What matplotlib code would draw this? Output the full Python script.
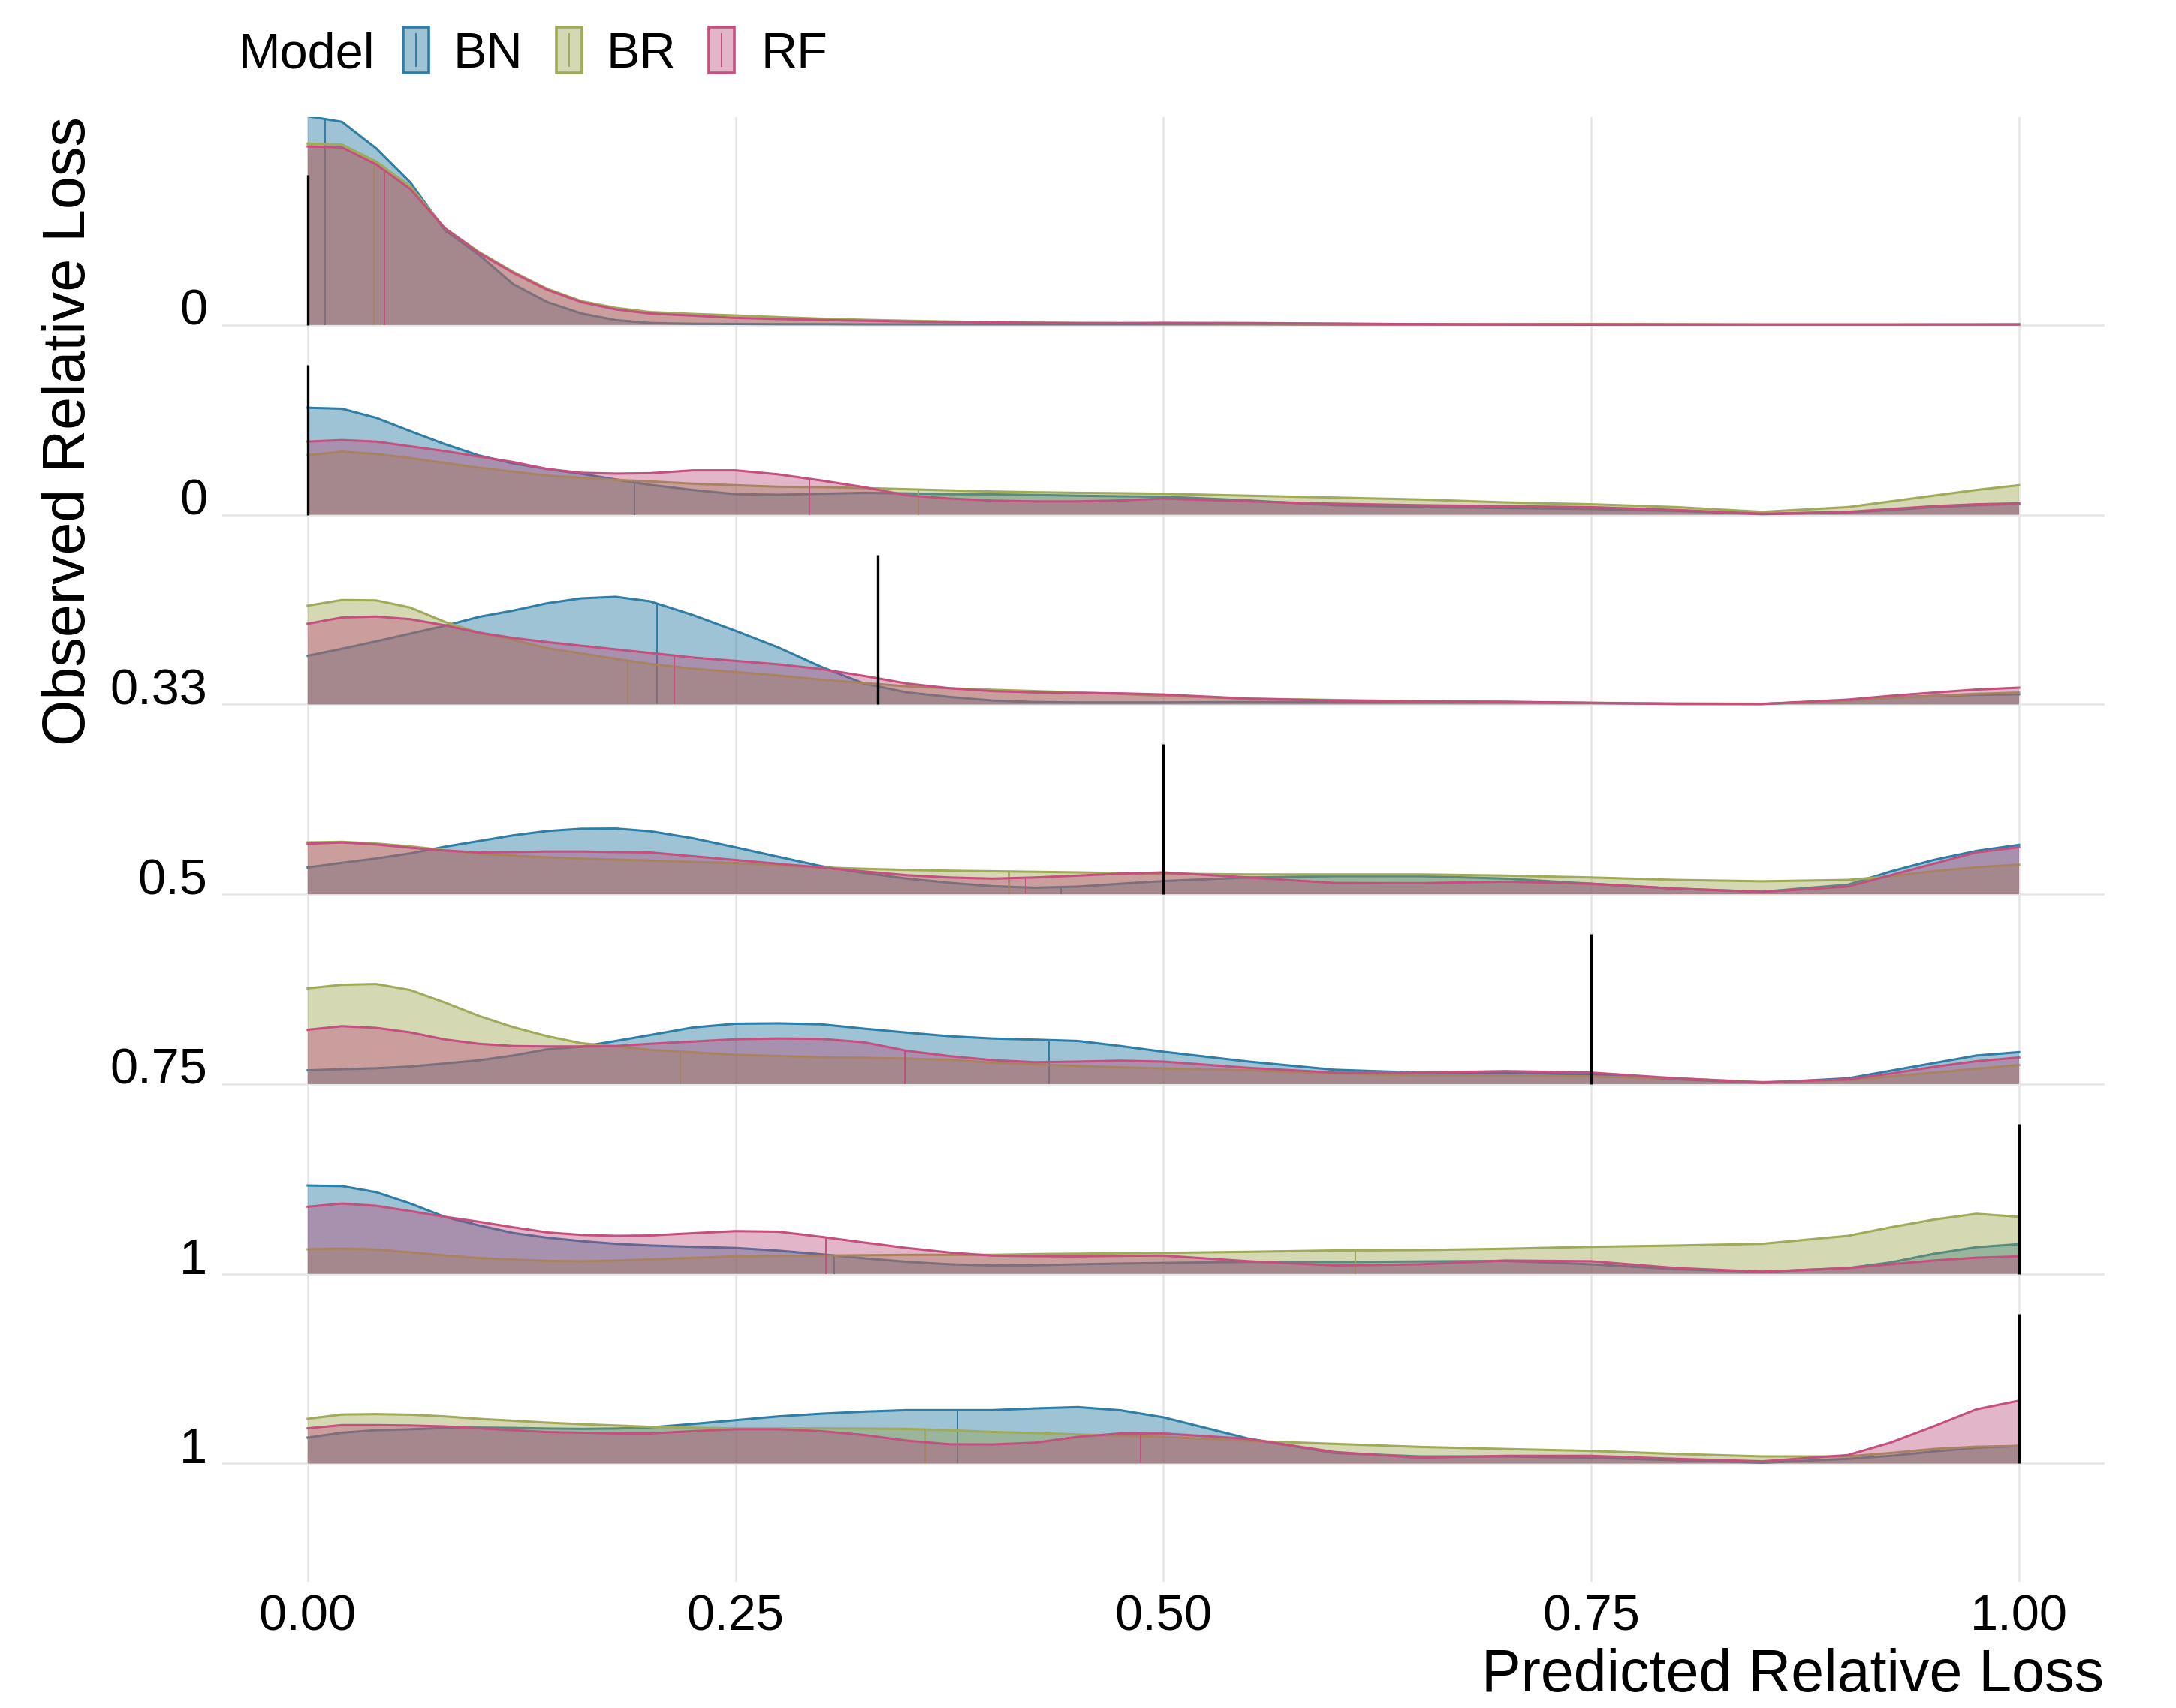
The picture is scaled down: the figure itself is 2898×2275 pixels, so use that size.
import numpy as np
import matplotlib
matplotlib.use("Agg")
import matplotlib.pyplot as plt
from matplotlib.patches import Rectangle
from matplotlib.lines import Line2D

plt.rcParams['font.family'] = ['Liberation Sans', 'DejaVu Sans']

# ---------------- data ----------------
row_labels = ["0", "0", "0.33", "0.5", "0.75", "1", "1"]       # top -> bottom
observed = [0.0, 0.0, 0.333, 0.5, 0.75, 1.0, 1.0]
models = ["BN", "BR", "RF"]

x_grid = [0.00, 0.02, 0.04, 0.06, 0.08, 0.10, 0.12, 0.14, 0.16, 0.18, 0.20,
          0.225, 0.25, 0.275, 0.30, 0.325, 0.35, 0.375, 0.40, 0.425, 0.45,
          0.475, 0.50, 0.55, 0.60, 0.65, 0.70, 0.75, 0.80, 0.85, 0.90,
          0.925, 0.95, 0.975, 1.00]

# scaled density heights (in units of ridge spacing)
bn_r1 = [1.10, 1.07, 0.93, 0.75, 0.50, 0.37, 0.215, 0.12, 0.06, 0.025, 0.01, 0.006, 0.005, 0.004, 0.004, 0.003, 0.003, 0.003, 0.003, 0.003, 0.003, 0.003, 0.003, 0.003, 0.002, 0.002, 0.001, 0.001, 0.001, 0.001, 0.001, 0.001, 0.002, 0.002, 0.003]
br_r1 = [0.955, 0.95, 0.86, 0.73, 0.51, 0.385, 0.28, 0.19, 0.125, 0.09, 0.068, 0.058, 0.05, 0.041, 0.033, 0.027, 0.022, 0.018, 0.015, 0.012, 0.010, 0.009, 0.008, 0.007, 0.006, 0.004, 0.004, 0.005, 0.004, 0.002, 0.002, 0.002, 0.002, 0.002, 0.002]
rf_r1 = [0.94, 0.935, 0.845, 0.715, 0.51, 0.38, 0.275, 0.185, 0.12, 0.082, 0.06, 0.049, 0.037, 0.031, 0.026, 0.022, 0.018, 0.015, 0.013, 0.011, 0.010, 0.010, 0.011, 0.010, 0.007, 0.004, 0.003, 0.003, 0.002, 0.002, 0.002, 0.002, 0.002, 0.002, 0.002]

bn_r2 = [0.563, 0.558, 0.51, 0.44, 0.372, 0.312, 0.27, 0.24, 0.215, 0.185, 0.157, 0.13, 0.108, 0.105, 0.11, 0.115, 0.112, 0.108, 0.107, 0.104, 0.10, 0.097, 0.095, 0.075, 0.05, 0.04, 0.035, 0.03, 0.02, 0.003, 0.012, 0.025, 0.04, 0.05, 0.058]
br_r2 = [0.313, 0.332, 0.32, 0.298, 0.272, 0.247, 0.226, 0.205, 0.194, 0.183, 0.175, 0.163, 0.155, 0.147, 0.145, 0.14, 0.134, 0.128, 0.122, 0.118, 0.115, 0.113, 0.11, 0.10, 0.09, 0.08, 0.065, 0.055, 0.04, 0.015, 0.04, 0.07, 0.10, 0.13, 0.155]
rf_r2 = [0.385, 0.393, 0.385, 0.36, 0.335, 0.306, 0.277, 0.24, 0.22, 0.216, 0.218, 0.233, 0.233, 0.212, 0.18, 0.145, 0.102, 0.085, 0.074, 0.07, 0.07, 0.075, 0.085, 0.07, 0.058, 0.05, 0.045, 0.04, 0.025, 0.005, 0.015, 0.03, 0.045, 0.055, 0.06]

bn_r3 = [0.256, 0.293, 0.332, 0.373, 0.414, 0.461, 0.494, 0.533, 0.559, 0.567, 0.543, 0.471, 0.388, 0.30, 0.198, 0.11, 0.063, 0.039, 0.02, 0.012, 0.010, 0.010, 0.010, 0.012, 0.014, 0.014, 0.012, 0.007, 0.003, 0.002, 0.02, 0.035, 0.045, 0.05, 0.053]
br_r3 = [0.52, 0.55, 0.548, 0.51, 0.435, 0.378, 0.34, 0.296, 0.268, 0.24, 0.213, 0.188, 0.17, 0.152, 0.13, 0.113, 0.095, 0.085, 0.077, 0.07, 0.063, 0.055, 0.045, 0.03, 0.023, 0.016, 0.013, 0.008, 0.005, 0.003, 0.02, 0.035, 0.045, 0.055, 0.062]
rf_r3 = [0.425, 0.458, 0.463, 0.449, 0.417, 0.378, 0.35, 0.328, 0.309, 0.29, 0.271, 0.247, 0.229, 0.211, 0.186, 0.15, 0.11, 0.085, 0.07, 0.063, 0.06, 0.058, 0.052, 0.03, 0.02, 0.016, 0.013, 0.008, 0.002, 0.002, 0.025, 0.045, 0.062, 0.078, 0.088]

bn_r4 = [0.141, 0.165, 0.188, 0.215, 0.25, 0.28, 0.31, 0.333, 0.345, 0.346, 0.332, 0.295, 0.247, 0.197, 0.148, 0.112, 0.082, 0.06, 0.042, 0.034, 0.04, 0.055, 0.069, 0.088, 0.095, 0.095, 0.082, 0.055, 0.029, 0.013, 0.05, 0.12, 0.18, 0.228, 0.26]
br_r4 = [0.273, 0.276, 0.267, 0.252, 0.232, 0.214, 0.203, 0.194, 0.187, 0.182, 0.177, 0.17, 0.164, 0.152, 0.141, 0.134, 0.128, 0.124, 0.121, 0.118, 0.115, 0.111, 0.108, 0.104, 0.104, 0.104, 0.098, 0.088, 0.075, 0.068, 0.075, 0.095, 0.121, 0.142, 0.156]
rf_r4 = [0.266, 0.273, 0.262, 0.245, 0.23, 0.22, 0.222, 0.225, 0.225, 0.222, 0.22, 0.2, 0.18, 0.16, 0.141, 0.12, 0.1, 0.088, 0.082, 0.088, 0.098, 0.108, 0.115, 0.088, 0.059, 0.058, 0.066, 0.055, 0.029, 0.012, 0.04, 0.1, 0.16, 0.22, 0.248]

bn_r5 = [0.072, 0.078, 0.083, 0.092, 0.108, 0.125, 0.15, 0.183, 0.197, 0.227, 0.258, 0.298, 0.318, 0.32, 0.315, 0.292, 0.271, 0.252, 0.24, 0.234, 0.227, 0.2, 0.17, 0.118, 0.075, 0.06, 0.058, 0.05, 0.025, 0.006, 0.03, 0.07, 0.11, 0.15, 0.168]
br_r5 = [0.504, 0.523, 0.527, 0.495, 0.43, 0.359, 0.30, 0.252, 0.215, 0.198, 0.18, 0.167, 0.154, 0.148, 0.141, 0.138, 0.134, 0.128, 0.112, 0.104, 0.095, 0.088, 0.082, 0.072, 0.055, 0.045, 0.045, 0.04, 0.03, 0.01, 0.02, 0.04, 0.06, 0.08, 0.10]
rf_r5 = [0.286, 0.305, 0.296, 0.272, 0.235, 0.212, 0.2, 0.198, 0.198, 0.2, 0.212, 0.224, 0.236, 0.24, 0.238, 0.22, 0.175, 0.147, 0.126, 0.115, 0.118, 0.123, 0.118, 0.085, 0.06, 0.06, 0.068, 0.06, 0.03, 0.008, 0.025, 0.055, 0.09, 0.12, 0.14]

bn_r6 = [0.465, 0.462, 0.43, 0.37, 0.30, 0.255, 0.215, 0.19, 0.172, 0.158, 0.149, 0.142, 0.136, 0.122, 0.103, 0.082, 0.063, 0.05, 0.044, 0.045, 0.05, 0.054, 0.057, 0.063, 0.062, 0.065, 0.068, 0.05, 0.024, 0.01, 0.03, 0.06, 0.105, 0.14, 0.156]
br_r6 = [0.129, 0.133, 0.128, 0.113, 0.097, 0.083, 0.075, 0.068, 0.066, 0.07, 0.076, 0.084, 0.092, 0.094, 0.096, 0.098, 0.1, 0.1, 0.1, 0.104, 0.106, 0.108, 0.11, 0.116, 0.123, 0.125, 0.132, 0.142, 0.149, 0.158, 0.2, 0.245, 0.285, 0.316, 0.30]
rf_r6 = [0.353, 0.37, 0.358, 0.33, 0.30, 0.274, 0.245, 0.218, 0.205, 0.2, 0.202, 0.214, 0.225, 0.222, 0.195, 0.165, 0.136, 0.112, 0.096, 0.093, 0.092, 0.095, 0.096, 0.066, 0.044, 0.05, 0.07, 0.066, 0.03, 0.011, 0.03, 0.05, 0.07, 0.085, 0.092]

bn_r7 = [0.136, 0.162, 0.175, 0.18, 0.187, 0.189, 0.187, 0.184, 0.182, 0.184, 0.19, 0.208, 0.228, 0.248, 0.262, 0.273, 0.281, 0.281, 0.281, 0.29, 0.297, 0.28, 0.243, 0.13, 0.055, 0.037, 0.037, 0.03, 0.017, 0.004, 0.024, 0.04, 0.063, 0.083, 0.092]
br_r7 = [0.235, 0.258, 0.26, 0.257, 0.248, 0.235, 0.225, 0.215, 0.207, 0.2, 0.193, 0.188, 0.185, 0.185, 0.185, 0.184, 0.182, 0.175, 0.166, 0.16, 0.153, 0.146, 0.14, 0.119, 0.103, 0.087, 0.076, 0.066, 0.05, 0.037, 0.037, 0.055, 0.076, 0.088, 0.092]
rf_r7 = [0.185, 0.202, 0.202, 0.2, 0.195, 0.185, 0.175, 0.165, 0.162, 0.158, 0.158, 0.17, 0.18, 0.18, 0.17, 0.15, 0.12, 0.101, 0.1, 0.109, 0.14, 0.158, 0.158, 0.129, 0.06, 0.03, 0.04, 0.04, 0.024, 0.011, 0.044, 0.11, 0.195, 0.285, 0.331]

median_bn = [0.010, 0.191, 0.204, 0.440, 0.433, 0.3075, 0.3796]
median_br = [0.0386, 0.357, 0.187, 0.410, 0.2175, 0.612, 0.3607]
median_rf = [0.045, 0.293, 0.214, 0.4195, 0.349, 0.3026, 0.4866]

x_ticks = [0.00, 0.25, 0.50, 0.75, 1.00]
x_tick_labels = ["0.00", "0.25", "0.50", "0.75", "1.00"]

# ---------------- styling ----------------
base_col = {"BN": "#0A6998", "BR": "#94A044", "RF": "#B94678"}
edge_col = {"BN": "#2E7EA6", "BR": "#A0AA58", "RF": "#C4507F"}
ALPHA = 0.4

dens = {
    "BN": [bn_r1, bn_r2, bn_r3, bn_r4, bn_r5, bn_r6, bn_r7],
    "BR": [br_r1, br_r2, br_r3, br_r4, br_r5, br_r6, br_r7],
    "RF": [rf_r1, rf_r2, rf_r3, rf_r4, rf_r5, rf_r6, rf_r7],
}
medians = {"BN": median_bn, "BR": median_br, "RF": median_rf}

fig = plt.figure(figsize=(14.49, 11.375), dpi=200)
ax = fig.add_axes([0.1021, 0.0738, 0.8651, 0.8576])

n = len(row_labels)
levels = [n - i for i in range(n)]   # top row at highest level
xg = np.array(x_grid)

z = 2
for i in range(n):
    base = levels[i]
    for m in models:
        h = np.array(dens[m][i])
        ax.fill_between(xg, base, base + h, facecolor=base_col[m], alpha=ALPHA,
                        linewidth=0, zorder=z)
        med = medians[m][i]
        mh = np.interp(med, xg, h)
        ax.plot([med, med], [base, base + mh], color=edge_col[m], lw=0.7,
                zorder=z + 0.1, solid_capstyle='butt')
        ax.plot(xg, base + h, color=edge_col[m], lw=1.1, zorder=z + 0.2)
        z += 1

ax.vlines(observed, levels, np.array(levels) + 0.79, color='black', lw=1.2,
          zorder=z + 5)

ax.set_xlim(-0.05, 1.05)
ax.set_ylim(0.376, 8.0945)
ax.set_xticks(x_ticks, x_tick_labels)
ax.set_yticks(levels, row_labels)
for lbl in ax.get_yticklabels():
    lbl.set_va('baseline')
ax.tick_params(axis='both', length=0, labelsize=24, colors='black')
ax.tick_params(axis='x', pad=6)
ax.tick_params(axis='y', pad=7)
ax.grid(True, color='#E6E6E6', lw=0.9)
ax.set_axisbelow(True)
for s in ax.spines.values():
    s.set_visible(False)

fig.text(0.967, 0.002, "Predicted Relative Loss", ha='right', va='bottom',
         fontsize=28.4)
fig.text(0.0318, 0.932, "Observed Relative Loss", ha='center', va='top',
         rotation=90, fontsize=28.4)

# legend
fig.text(0.1097, 0.9604, "Model", ha='left', va='baseline', fontsize=24)
key_x = [0.1853, 0.2557, 0.3257]
txt_x = [0.2084, 0.2788, 0.3496]
kw, kh, ky = 0.01173, 0.02681, 0.95736
for m, kx, tx in zip(models, key_x, txt_x):
    fig.add_artist(Rectangle((kx, ky), kw, kh, transform=fig.transFigure,
                             facecolor=base_col[m], alpha=ALPHA, lw=0))
    fig.add_artist(Rectangle((kx, ky), kw, kh, transform=fig.transFigure,
                             facecolor='none', edgecolor=edge_col[m], lw=1.3))
    fig.add_artist(Line2D([kx + kw / 2, kx + kw / 2], [ky + 0.004, ky + kh - 0.004],
                          transform=fig.transFigure, color=edge_col[m], lw=0.7))
    fig.text(tx, 0.9604, m, ha='left', va='baseline', fontsize=24)

fig.savefig("out.png", dpi=200)
